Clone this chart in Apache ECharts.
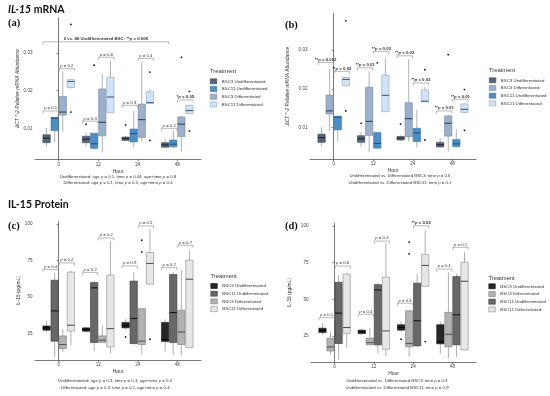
<!DOCTYPE html>
<html><head><meta charset="utf-8">
<script src="https://cdn.jsdelivr.net/npm/echarts@6/dist/echarts.min.js"></script>
<style>html,body{margin:0;padding:0;background:#fff}#c{width:550px;height:396px}</style>
</head><body><div id="c"></div>
<script>
// ---------- data ----------
const hours = ['0', '12', '24', '48'];
const treatments = ['BSC3 Undifferentiated', 'BSC11 Undifferentiated', 'BSC3 Differentiated', 'BSC11 Differentiated'];

// mRNA: [min, q1, median, q3, max] per hour
const mrnaBsc3Undiff = [[0.0052,0.0062,0.0074,0.0083,0.0101],[0.0051,0.0062,0.0071,0.0079,0.0089],[0.0066,0.0068,0.0073,0.0077,0.0080],[0.0049,0.0050,0.0056,0.0062,0.0073]];
const mrnaBsc11Undiff = [[0.0064,0.0094,0.0127,0.0129,0.0129],[0.0046,0.0047,0.0059,0.0087,0.0087],[0.0049,0.0064,0.0086,0.0098,0.0146],[0.0048,0.0051,0.0058,0.0069,0.0095]];
const mrnaBsc3Diff = [[0.0091,0.0135,0.0143,0.0184,0.0251],[0.0036,0.0080,0.0116,0.0204,0.0245],[0.0065,0.0076,0.0123,0.0164,0.0276],[0.0038,0.0078,0.0111,0.0130,0.0133]];
const mrnaBsc11Diff = [[0.0205,0.0208,0.0224,0.0229,0.0230],[0.0141,0.0141,0.0183,0.0235,0.0279],[0.0166,0.0166,0.0168,0.0197,0.0205],[0.0138,0.0139,0.0147,0.0161,0.0162]];
// outliers: [hour index, value]
const mrnaBsc3UndiffOut = [[1,0.0111],[2,0.0109]];
const mrnaBsc11UndiffOut = [[1,0.0267]];
const mrnaBsc3DiffOut = [[3,0.0288]];
const mrnaBsc11DiffOut = [[0,0.0375],[0,0.0143],[2,0.0249],[2,0.0068],[3,0.0198],[3,0.0093]];

// protein (pg/mL)
const protBsc3Undiff = [[25.8,27.4,29.0,30.3,33.6],[25.8,26.7,27.9,29.0,29.7],[27.9,29.0,30.8,32.7,34.9],[13.0,19.7,21.0,32.7,34.9]];
const protBsc11Undiff = [[9.0,19.9,40.6,61.6,66.5],[13.2,19.0,56.4,60.0,61.2],[17.5,18.3,35.4,61.0,67.3],[10.7,19.0,39.5,65.5,67.3]];
const protBsc3Diff = [[12.5,14.8,17.6,23.5,28.1],[19.0,19.0,20.5,23.5,30.8],[10.8,17.6,19.9,42.2,42.2],[10.0,17.6,26.2,41.1,68.5]];
const protBsc11Diff = [[16.9,26.8,30.8,67.2,68.0],[11.4,16.0,28.5,65.1,88.4],[58.9,58.9,73.1,80.6,97.0],[15.5,15.5,62.3,75.3,82.2]];
const protBsc3UndiffOut = [[2,22.8]];
const protBsc11UndiffOut = [];
const protBsc3DiffOut = [[2,89.0],[2,81.0]];
const protBsc11DiffOut = [[2,21.2]];

// brackets: [hourA, slotA, hourB, slotB, y, label]
const mrnaAgeBrackets = [
  [0,0,0,1,0.0146,'p = 0.1'],[0,2,0,3,0.0258,'p = 0.2'],
  [1,0,1,1,0.0119,'p = 0.3'],[1,2,1,3,0.0288,'p = 0.8'],
  [2,0,2,1,0.0161,'p = 0.3'],[2,2,2,3,0.0285,'p = 0.4'],
  [3,0,3,1,0.0100,'p = 0.2'],[3,2,3,3,0.0175,'*p = 0.05'],
  [0,0,3,0,0.0329,'0 vs. 48 Undifferentiated BSC: **p = 0.008']
];
const mrnaCellBrackets = [
  [0,0,0,1,0.0268,'**p = 0.002'],[0,2,0,3,0.0245,'**p = 0.02'],
  [1,0,1,1,0.0254,'**p = 0.01'],[1,2,1,3,0.0296,'**p = 0.03'],
  [2,0,2,1,0.0285,'**p = 0.02'],[2,2,2,3,0.0215,'**p = 0.03'],
  [3,0,3,1,0.0143,'**p = 0.01'],[3,2,3,3,0.0173,'**p = 0.01']
];
const protAgeBrackets = [
  [0,0,0,1,69.0,'p = 0.4'],[0,2,0,3,73.5,'p = 0.2'],
  [1,0,1,1,67.0,'p = 0.2'],[1,2,1,3,90.6,'p = 0.2'],
  [2,0,2,1,71.4,'p = 0.9'],[2,2,2,3,98.8,'p = 0.5'],
  [3,0,3,1,70.3,'p = 0.2'],[3,2,3,3,85.6,'p = 0.7']
];
const protCellBrackets = [
  [0,0,0,1,37.5,'p = 0.1'],[0,2,0,3,72.7,'p = 0.6'],
  [1,0,1,1,39.8,'p = 0.4'],[1,2,1,3,89.7,'p = 0.4'],
  [2,0,2,1,47.3,'p = 0.4'],[2,2,2,3,100.1,'**p = 0.02'],
  [3,0,3,1,70.6,'p = 0.1'],[3,2,3,3,85.4,'p = 0.1']
];

const mrnaTicks = [0.01, 0.02, 0.03];
const protTicks = [25, 50, 75, 100];

const footA = ['Undifferentiated: age {i|p} = 0.1, time {i|p} = 0.04, age×time {i|p} = 0.8', 'Differentiated: age {i|p} = 0.1, time {i|p} = 0.3, age×time {i|p} = 0.4'];
const footB = ['Undifferentiated vs. Differentiated BSC3: time {i|p} = 0.6', 'Undifferentiated vs. Differentiated BSC11: time {i|p} = 0.1'];
const footC = ['Undifferentiated: age {i|p} = 0.3, time {i|p} = 0.3, age×time {i|p} = 0.4', 'Differentiated: age {i|p} = 0.3, time {i|p} = 0.2, age×time {i|p} = 0.4'];
const footD = ['Undifferentiated vs. Differentiated BSC3: time {i|p} = 0.3', 'Undifferentiated vs. Differentiated BSC11: time {i|p} = 0.9'];

// ---------- styling ----------
const mrnaStats = [mrnaBsc3Undiff, mrnaBsc11Undiff, mrnaBsc3Diff, mrnaBsc11Diff];
const mrnaOuts = [mrnaBsc3UndiffOut, mrnaBsc11UndiffOut, mrnaBsc3DiffOut, mrnaBsc11DiffOut];
const protStats = [protBsc3Undiff, protBsc11Undiff, protBsc3Diff, protBsc11Diff];
const protOuts = [protBsc3UndiffOut, protBsc11UndiffOut, protBsc3DiffOut, protBsc11DiffOut];

const pal = {
  mrna: {fill:['#56657a','#4b8fc6','#9db0cb','#d0e3f7'], stroke:['#3c4756','#35709f','#75879f','#8ea5c0'], med:['#1c2634','#1e4f7a','#33445c','#3f5f85'], whisk:'#8a9099'},
  prot: {fill:['#262626','#686868','#b2b2b2','#e7e7e7'], stroke:['#111111','#333333','#7a7a7a','#8c8c8c'], med:['#000000','#161616','#555555','#555555'], whisk:'#8c8c8c'}
};

const DODGE = 0.205, BOXW = 0.185;
const FONT = 'Liberation Sans';
const SMALL = 4.3;

const panels = [
  {key:'a', kind:'mrna', order:[0,1,2,3], grid:{left:35, top:18, width:166, height:141.3}, ymin:0.0018, ymax:0.0392,
   yname:'ΔCT ^-2 Relative mRNA Abundance', ygap:15, brackets:mrnaAgeBrackets, leg:{left:210, top:78.5}, ttl:[210,71.7], foot:[118,176.5,183], footText:footA},
  {key:'b', kind:'mrna', order:[0,2,1,3], grid:{left:310, top:13.5, width:166, height:145.5}, ymin:0.0019, ymax:0.0394,
   yname:'ΔCT ^-2 Relative mRNA Abundance', ygap:20, brackets:mrnaCellBrackets, leg:{left:489, top:77.5}, ttl:[489,70], foot:[400,176,182.7], footText:footB},
  {key:'c', kind:'prot', order:[0,1,2,3], grid:{left:35, top:221.7, width:166, height:138.3}, ymin:7.0, ymax:101.7,
   yname:'IL-15 (pg/mL)', ygap:11, brackets:protAgeBrackets, leg:{left:210.5, top:283.2}, ttl:[210.5,276], foot:[115,381.2,387.4], footText:footC},
  {key:'d', kind:'prot', order:[0,2,1,3], grid:{left:311, top:223.3, width:165, height:138.7}, ymin:7.3, ymax:101.8,
   yname:'IL-15 (pg/mL)', ygap:19, brackets:protCellBrackets, leg:{left:488.5, top:283.5}, ttl:[488.5,278.3], foot:[397,381.2,387.4], footText:footD}
];

function boxRenderer(slot, fill, stroke, med, whisk) {
  return function (params, api) {
    const x = api.value(0) + (slot - 1.5) * DODGE;
    const pMin = api.coord([x, api.value(1)]);
    const cx = pMin[0];
    const yQ1 = api.coord([x, api.value(2)])[1];
    const yMed = api.coord([x, api.value(3)])[1];
    const yQ3 = api.coord([x, api.value(4)])[1];
    const yMax = api.coord([x, api.value(5)])[1];
    const hw = api.size([BOXW, 0])[0] / 2;
    return {type:'group', children:[
      {type:'line', shape:{x1:cx, y1:yMax, x2:cx, y2:yQ3}, style:{stroke:whisk, lineWidth:0.7}},
      {type:'line', shape:{x1:cx, y1:yQ1, x2:cx, y2:pMin[1]}, style:{stroke:whisk, lineWidth:0.7}},
      {type:'rect', shape:{x:cx-hw, y:yQ3, width:hw*2, height:Math.max(yQ1-yQ3, 0.6)}, style:{fill:fill, stroke:stroke, lineWidth:0.6}},
      {type:'line', shape:{x1:cx-hw, y1:yMed, x2:cx+hw, y2:yMed}, style:{stroke:med, lineWidth:1.1}}
    ]};
  };
}
function outRender(params, api) {
  const x = api.value(0) + (api.value(1) - 1.5) * DODGE;
  const p = api.coord([x, api.value(2)]);
  return {type:'circle', shape:{cx:p[0], cy:p[1], r:0.9}, style:{fill:'#111'}};
}
function bracketRenderer(list) {
  return function (params, api) {
    const d = list[params.dataIndex];
    const xa = d[0] + (d[1] - 1.5) * DODGE - BOXW / 2;
    const xb = d[2] + (d[3] - 1.5) * DODGE + BOXW / 2;
    const pa = api.coord([xa, d[4]]), pb = api.coord([xb, d[4]]);
    const y = pa[1];
    const bold = d[5].indexOf('*') >= 0 ? 'bold' : 'normal';
    const txt = d[5].replace(/p =/g, '{i|p} =');
    return {type:'group', children:[
      {type:'polyline', shape:{points:[[pa[0], y+2.6],[pa[0], y],[pb[0], y],[pb[0], y+2.6]]}, style:{stroke:'#9a9a9a', lineWidth:0.7, fill:'none'}},
      {type:'text', x:(pa[0]+pb[0])/2, y:y-0.8, style:{text:txt, textAlign:'center', textVerticalAlign:'bottom', align:'center', verticalAlign:'bottom',
        fontSize:SMALL, fontFamily:FONT, fontWeight:bold, fill:'#333',
        rich:{i:{fontStyle:'italic', fontSize:SMALL, fontFamily:FONT, fontWeight:bold, fill:'#333'}}}}
    ]};
  };
}

const grid = [], xAxis = [], yAxis = [], series = [], legend = [], graphic = [];

panels.forEach((P, pi) => {
  grid.push(P.grid);
  xAxis.push({type:'value', gridIndex:pi, min:-0.6, max:3.6,
    axisLine:{lineStyle:{color:'#555', width:0.8}},
    axisTick:{customValues:[0,1,2,3], length:2, lineStyle:{color:'#555', width:0.7}},
    axisLabel:{customValues:[0,1,2,3], formatter:v => hours[Math.round(v)], fontSize:4.6, color:'#444', margin:2.5, fontFamily:FONT},
    splitLine:{show:false},
    name:'Hour', nameLocation:'middle', nameGap:9.5, nameTextStyle:{fontSize:4.9, color:'#333', fontFamily:FONT}});
  const ticks = P.kind === 'mrna' ? mrnaTicks : protTicks;
  yAxis.push({type:'value', gridIndex:pi, min:P.ymin, max:P.ymax,
    axisLine:{show:true, lineStyle:{color:'#555', width:0.8}},
    axisTick:{show:true, customValues:ticks, length:2, lineStyle:{color:'#555', width:0.7}},
    axisLabel:{customValues:ticks, formatter:v => P.kind === 'mrna' ? v.toFixed(2) : String(Math.round(v)), fontSize:4.6, color:'#444', margin:2.5, fontFamily:FONT},
    splitLine:{show:false},
    name:P.yname, nameLocation:'middle', nameGap:P.ygap, nameRotate:90,
    nameTextStyle:{fontSize:4.9, color:'#333', fontFamily:FONT, fontStyle:P.kind === 'mrna' ? 'italic' : 'normal'}});

  const C = pal[P.kind];
  const stats = P.kind === 'mrna' ? mrnaStats : protStats;
  const outs = P.kind === 'mrna' ? mrnaOuts : protOuts;
  const legData = [];
  const outData = [];
  P.order.forEach((t, slot) => {
    const name = P.key + ':' + treatments[t];
    series.push({type:'custom', name:name, xAxisIndex:pi, yAxisIndex:pi,
      itemStyle:{color:C.fill[t], borderColor:C.stroke[t]},
      renderItem:boxRenderer(slot, C.fill[t], C.stroke[t], C.med[t], C.whisk),
      data:stats[t].map((s, h) => [h].concat(s)), z:2, silent:true});
    legData.push({name:name, itemStyle:{color:C.fill[t], borderColor:C.stroke[t], borderWidth:0.6}});
    outs[t].forEach(o => outData.push([o[0], slot, o[1]]));
  });
  series.push({type:'custom', name:P.key + ':outliers', xAxisIndex:pi, yAxisIndex:pi, renderItem:outRender, data:outData, z:3, silent:true});
  series.push({type:'custom', name:P.key + ':brackets', xAxisIndex:pi, yAxisIndex:pi, renderItem:bracketRenderer(P.brackets),
    data:P.brackets.map(b => b.slice(0, 5)), z:4, silent:true});

  legend.push({orient:'vertical', left:P.leg.left, top:P.leg.top, padding:0, itemWidth:6.5, itemHeight:5, itemGap:2.1, icon:'rect',
    selectedMode:false, data:legData, formatter:n => n.slice(2),
    textStyle:{fontSize:4.4, color:'#333', fontFamily:FONT, lineHeight:5}});

  graphic.push({type:'text', x:P.ttl[0], y:P.ttl[1], style:{text:'Treatment', fontSize:5.8, fontFamily:FONT, fill:'#333',
    textVerticalAlign:'middle', verticalAlign:'middle'}});
  P.footText.forEach((ft, i) => {
    graphic.push({type:'text', x:P.foot[0], y:P.foot[1 + i], style:{text:ft, fontSize:SMALL, fontFamily:FONT, fill:'#333',
      textAlign:'center', align:'center', textVerticalAlign:'middle', verticalAlign:'middle',
      rich:{i:{fontStyle:'italic', fontSize:SMALL, fontFamily:FONT, fill:'#333'}}}});
  });
});

// headings and panel letters
graphic.push({type:'text', x:8, y:4, style:{text:'{it|IL-15} mRNA', fontSize:10.5, fontWeight:'bold', fontFamily:'Lato', fill:'#111',
  textVerticalAlign:'top', verticalAlign:'top', rich:{it:{fontStyle:'italic', fontWeight:'bold', fontSize:10.5, fontFamily:'Lato', fill:'#111'}}}});
graphic.push({type:'text', x:8, y:199, style:{text:'IL-15 Protein', fontSize:10.5, fontWeight:'bold', fontFamily:'Lato', fill:'#111',
  textVerticalAlign:'top', verticalAlign:'top'}});
[['(a)', 8, 17.5], ['(b)', 285, 19.5], ['(c)', 8, 220.5], ['(d)', 285, 221]].forEach(l => {
  graphic.push({type:'text', x:l[1], y:l[2], style:{text:l[0], fontSize:10.5, fontWeight:'bold', fontFamily:'Liberation Serif', fill:'#111',
    textVerticalAlign:'top', verticalAlign:'top'}});
});

const chart = echarts.init(document.getElementById('c'));
chart.setOption({animation:false, backgroundColor:'#fff', grid, xAxis, yAxis, series, legend, graphic});
</script></body></html>
